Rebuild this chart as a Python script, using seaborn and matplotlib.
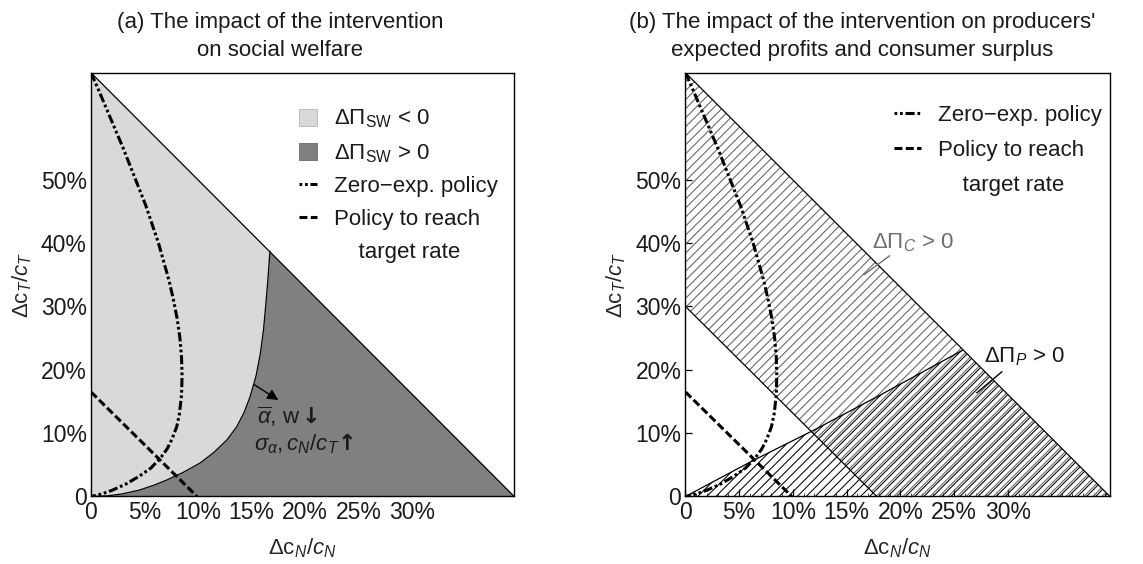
import numpy as np
import seaborn as sns
import matplotlib
matplotlib.use("Agg")
import matplotlib.pyplot as plt
from matplotlib.patches import Patch, Polygon
from matplotlib.lines import Line2D
from matplotlib.collections import LineCollection
from matplotlib.ticker import FixedLocator, MultipleLocator

# ---------------------------------------------------------------- data
# feasible region: triangle under the budget line
XMAX, YMAX = 0.395, 0.669

x_ticks = [0, 0.05, 0.10, 0.15, 0.20, 0.25, 0.30]
x_tick_labels = ["0", "5%", "10%", "15%", "20%", "25%", "30%"]
y_ticks = [0, 0.10, 0.20, 0.30, 0.40, 0.50]
y_tick_labels = ["0", "10%", "20%", "30%", "40%", "50%"]

# zero-expenditure policy curve
zero_x = [0, 0.0075, 0.015, 0.0225, 0.030, 0.037, 0.044, 0.051, 0.057, 0.063,
          0.068, 0.073, 0.077, 0.0805, 0.083, 0.0845, 0.085, 0.0845, 0.0825,
          0.080, 0.0755, 0.071, 0.0645, 0.056, 0.045, 0.033, 0.020, 0.010, 0]
zero_y = [0.669, 0.64, 0.61, 0.58, 0.55, 0.52, 0.49, 0.46, 0.43, 0.40,
          0.37, 0.34, 0.31, 0.28, 0.25, 0.22, 0.19, 0.16, 0.13,
          0.11, 0.09, 0.075, 0.06, 0.045, 0.032, 0.02, 0.01, 0.004, 0]

# policy that reaches the target rate
target_x = [0, 0.099]
target_y = [0.165, 0]

# social-welfare break-even curve (dSW = 0)
sw_x = [0, 0.015, 0.029, 0.045, 0.059, 0.0707, 0.086, 0.102, 0.115, 0.127,
        0.136, 0.143, 0.1486, 0.154, 0.158, 0.161, 0.163, 0.165, 0.167]
sw_y = [0, 0.001, 0.004, 0.01, 0.018, 0.026, 0.038, 0.053, 0.07, 0.0896,
        0.11, 0.133, 0.158, 0.19, 0.225, 0.263, 0.30, 0.34, 0.387]

# consumer-surplus break-even line (dC = 0)
cs_x = [0, 0.178]
cs_y = [0.30, 0]

# producer-profit break-even curve (dP = 0)
pp_x = [0, 0.062, 0.1186, 0.180, 0.258]
pp_y = [0, 0.056, 0.104, 0.159, 0.231]

LIGHT = "#d9d9d9"
DARK = "#808080"

# ---------------------------------------------------------------- style
sns.set_theme(style="white")
plt.rcParams.update({
    "font.family": ["Liberation Sans", "DejaVu Sans"],
    "mathtext.fontset": "custom",
    "mathtext.rm": "Liberation Sans",
    "mathtext.it": "Liberation Sans:italic",
    "mathtext.bf": "DejaVu Sans:bold",
    "font.size": 16,
    "axes.edgecolor": "black",
    "axes.linewidth": 1.0,
    "text.color": "#1a1a1a",
})

FS = 16
TICK_FS = 16.5
zero_ls = (0, (3.0, 0.9, 0.9, 0.9, 0.9, 0.9))
zero_ls_leg = (0, (0.9, 0.9, 0.9, 0.9, 3.0, 0.9))
dash_ls = (0, (2.6, 1.1))
LW = 2.2

fig = plt.figure(figsize=(11.43, 5.64), dpi=100)
ax1 = fig.add_axes([0.0796, 0.1197, 0.3703, 0.7514])
ax2 = fig.add_axes([0.5997, 0.1197, 0.3714, 0.7514])


def frame(ax):
    ax.set_xlim(0, XMAX)
    ax.set_ylim(0, YMAX)
    ax.xaxis.set_major_locator(FixedLocator(x_ticks))
    ax.set_xticklabels(x_tick_labels)
    ax.xaxis.set_minor_locator(MultipleLocator(0.01))
    ax.yaxis.set_major_locator(FixedLocator(y_ticks))
    ax.set_yticklabels(y_tick_labels)
    ax.tick_params(which="major", direction="in", length=5, width=0.9,
                   labelsize=TICK_FS, pad=3, bottom=True, left=True,
                   top=False, right=False, colors="black")
    ax.tick_params(axis="x", which="minor", direction="in", length=2.5,
                   width=0.6, bottom=True, top=False)
    for lab in ax.get_xticklabels() + ax.get_yticklabels():
        lab.set_color("#1a1a1a")
    ax.set_xlabel(r"$\Delta\mathrm{c}_N/c_N$", fontsize=FS, labelpad=9)
    ax.set_ylabel(r"$\Delta\mathrm{c}_T/c_T$", fontsize=FS, labelpad=5)
    for s in ax.spines.values():
        s.set_linewidth(1.0)
        s.set_zorder(10)


def hatch(ax, xs, ys, color, spacing, offset, lw):
    """Diagonal '/' hatching of a polygon, drawn in axes space."""
    poly = Polygon(np.column_stack([xs, ys]), closed=True,
                   facecolor="none", edgecolor="none", transform=ax.transData)
    ax.add_patch(poly)
    cs = np.arange(-1.0 + offset, 1.0, spacing)
    segs = [[(c, 0.0), (c + 1.0, 1.0)] for c in cs]
    lc = LineCollection(segs, colors=color, linewidths=lw,
                        transform=ax.transAxes, zorder=2)
    ax.add_collection(lc)
    lc.set_clip_path(poly)


def policies(ax):
    sns.lineplot(x=zero_x, y=zero_y, sort=False, estimator=None, ax=ax,
                 color="black", lw=LW, linestyle=zero_ls, legend=False, zorder=6)
    sns.lineplot(x=target_x, y=target_y, sort=False, estimator=None, ax=ax,
                 color="black", lw=LW, linestyle=dash_ls, legend=False, zorder=6)


def policy_legend(ax, handles, labels, anchor, hlen, spacing):
    # the second line of the last label sits under the first, centred
    handles = handles + [Line2D([], [], color="none", lw=0)]
    labels = labels + ["    target rate"]
    leg = ax.legend(handles, labels, loc="upper left", bbox_to_anchor=anchor,
                    frameon=False, fontsize=FS, handlelength=hlen,
                    handleheight=0.8, handletextpad=0.8,
                    labelspacing=spacing, borderaxespad=0)
    return leg


# ---------------------------------------------------------------- panel (a)
ax = ax1
tri_x = [0, XMAX, 0]
tri_y = [0, 0, YMAX]
ax.fill(tri_x, tri_y, color=LIGHT, lw=0, zorder=1)
sw_x_arr = np.array(sw_x)
sw_y_arr = np.array(sw_y)
ax.fill_betweenx(sw_y_arr, sw_x_arr, XMAX * (1 - sw_y_arr / YMAX),
                 color=DARK, lw=0, zorder=2)
ax.plot([0, XMAX], [YMAX, 0], color="black", lw=0.9, zorder=5)
sns.lineplot(x=sw_x, y=sw_y, sort=False, estimator=None, ax=ax,
             color="black", lw=0.9, legend=False, zorder=5)
policies(ax)
frame(ax)
ax.set_title("(a) The impact of the intervention\non social welfare",
             fontsize=FS, x=0.447, pad=12, linespacing=1.45)

ax.annotate("", xy=(0.177, 0.150), xytext=(0.150, 0.179),
            arrowprops=dict(arrowstyle="-|>", color="black", lw=1.0,
                            mutation_scale=16), zorder=7)
ax.text(0.155, 0.126, r"$\overline{\alpha}$, w$\mathbf{\downarrow}$", fontsize=FS,
        va="center", ha="left", zorder=7)
ax.text(0.152, 0.084, r"$\sigma_\alpha, c_N/c_T\!\mathbf{\uparrow}$", fontsize=FS,
        va="center", ha="left", zorder=7)

h_a = [Patch(facecolor=LIGHT, edgecolor="#b5b5b5", lw=0.6),
       Patch(facecolor=DARK, edgecolor="#6a6a6a", lw=0.6),
       Line2D([], [], color="black", lw=LW, linestyle=zero_ls_leg),
       Line2D([], [], color="black", lw=LW, linestyle=dash_ls)]
l_a = [r"$\Delta\Pi_{\mathrm{SW}}$ < 0", r"$\Delta\Pi_{\mathrm{SW}}$ > 0",
       "Zero\u2212exp. policy", "Policy to reach"]
policy_legend(ax, h_a, l_a, (0.47, 0.938), 0.8, 0.52)

# ---------------------------------------------------------------- panel (b)
ax = ax2
band_x = [0, cs_x[1], XMAX, 0]
band_y = [cs_y[0], 0, 0, YMAX]
hatch(ax, band_x, band_y, "#6a6a6a", 0.0213, 0.0, 0.8)
prof_x = list(pp_x) + [XMAX]
prof_y = list(pp_y) + [0]
hatch(ax, prof_x, prof_y, "black", 0.0213, 0.0065, 0.75)

ax.plot([0, XMAX], [YMAX, 0], color="black", lw=0.9, zorder=5)
sns.lineplot(x=cs_x, y=cs_y, sort=False, estimator=None, ax=ax,
             color="black", lw=0.9, legend=False, zorder=5)
sns.lineplot(x=pp_x, y=pp_y, sort=False, estimator=None, ax=ax,
             color="black", lw=0.9, legend=False, zorder=5)
policies(ax)
frame(ax)
ax.set_title("(b) The impact of the intervention on producers'\n"
             "expected profits and consumer surplus",
             fontsize=FS, x=0.416, pad=12, linespacing=1.45)

ax.text(0.174, 0.40, r"$\Delta\Pi_C$ > 0", color="#6e6e6e", fontsize=FS,
        va="center", ha="left", zorder=7)
ax.plot([0.19, 0.166], [0.38, 0.35], color="#6e6e6e", lw=1.0, zorder=7)
ax.text(0.278, 0.22, r"$\Delta\Pi_P$ > 0", color="#1a1a1a", fontsize=FS,
        va="center", ha="left", zorder=7)
ax.plot([0.2945, 0.271], [0.197, 0.1635], color="black", lw=1.0, zorder=7)

h_b = [Line2D([], [], color="black", lw=LW, linestyle=zero_ls_leg),
       Line2D([], [], color="black", lw=LW, linestyle=dash_ls)]
l_b = ["Zero\u2212exp. policy", "Policy to reach"]
policy_legend(ax, h_b, l_b, (0.47, 0.946), 1.2, 0.62)

fig.savefig("out.png", dpi=100)
